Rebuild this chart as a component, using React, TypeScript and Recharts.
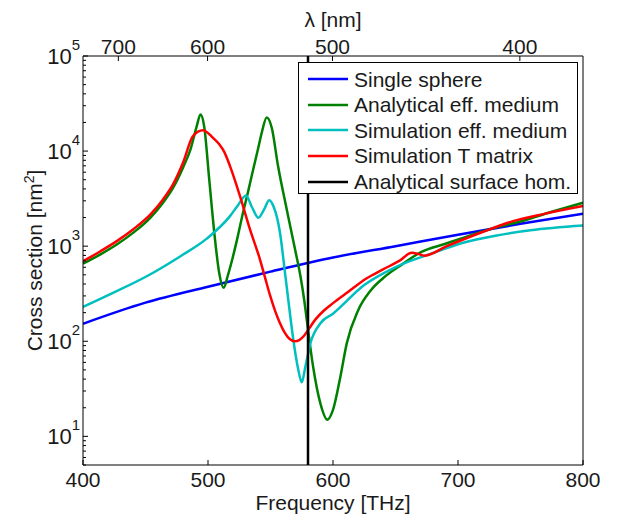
import React from "react";
import { LineChart, Line, XAxis, YAxis } from "recharts";

// values (frequency in THz, cross section in nm^2)
const singleFreq = [400, 450, 500, 550, 600, 650, 700, 750, 800];
const singleVal = [153, 255, 375, 540, 760, 1000, 1320, 1720, 2190];

const anaFreq = [
  400, 414, 427, 440, 454, 464, 472, 480, 486, 491, 494, 497, 501, 505, 509, 512.5, 516, 520, 524, 528, 532, 536,
  540, 543, 547, 551, 556, 563, 570, 574, 577, 579, 584, 590, 595.5, 600, 606, 611, 620, 630, 640, 655, 670, 690,
  710, 731, 750, 775, 800,
];
const anaVal = [
  655, 820, 1040, 1380, 2000, 2860, 4100, 6700, 10400, 18300, 24300, 18000, 5000, 1400, 520, 365, 500, 780, 1300,
  2250, 3700, 6300, 10500, 15600, 22500, 17600, 7000, 2430, 880, 480, 270, 169, 55, 22, 15, 19, 43, 95, 210, 340,
  460, 640, 860, 1060, 1300, 1580, 1820, 2300, 2865,
];

const simFreq = [
  400, 424, 451, 478, 499, 517.6, 524, 530.4, 535, 540.3, 545, 549, 552.3, 557.6, 561.6, 564.2, 568, 572, 575, 578,
  582, 590, 600, 625, 651, 678, 704, 731, 758, 800,
];
const simVal = [
  230, 323, 483, 785, 1200, 2070, 2700, 3420, 2600, 1990, 2450, 3050, 2640, 1384, 525, 275, 110, 52, 37, 55, 96, 155,
  195, 390, 610, 830, 1086, 1296, 1473, 1652,
];

const tmFreq = [
  400, 414, 427, 440, 454, 464, 472, 480, 488, 496, 504, 509, 513, 517.6, 525.6, 533.6, 541.6, 545.6, 549.6, 553.6,
  557.6, 561.6, 565.6, 569.5, 573, 577, 581, 586, 593, 600, 612, 627, 640, 653, 663, 668, 673, 691, 718, 744, 770,
  800,
];
const tmVal = [
  695, 885, 1130, 1500, 2160, 3100, 4460, 7540, 14400, 16600, 13800, 11800, 9800, 6950, 3360, 1500, 724, 470, 305,
  210, 155, 122, 105, 100, 103, 115, 137, 170, 212, 252, 330, 460, 570, 700, 851, 830, 795, 1000, 1384, 1833, 2200,
  2640,
];

const surfaceFreq = [580, 580];
const surfaceVal = [5, 100000];

const seriesNames = [
  "Single sphere",
  "Analytical eff. medium",
  "Simulation eff. medium",
  "Simulation T matrix",
  "Analytical surface hom.",
];
const seriesColors = ["#0000ff", "#008000", "#00bfbf", "#ff0000", "#000000"];

const freqTicks = [400, 500, 600, 700, 800];
const lambdaTicks = [700, 600, 500, 400];
const yTicks = [
  5, 6, 7, 8, 9, 10, 20, 30, 40, 50, 60, 70, 80, 90, 100, 200, 300, 400, 500, 600, 700, 800, 900, 1000, 2000, 3000,
  4000, 5000, 6000, 7000, 8000, 9000, 10000, 20000, 30000, 40000, 50000, 60000, 70000, 80000, 90000, 100000,
];

const C_NM_THZ = 299792.458;
const FONT = '"Liberation Sans", Arial, Helvetica, sans-serif';
const INK = "#1a1a1a";

const toRows = (f: number[], v: number[]) => f.map((x, i) => ({ f: x, v: v[i] }));
const seriesData = [
  toRows(singleFreq, singleVal),
  toRows(anaFreq, anaVal),
  toRows(simFreq, simVal),
  toRows(tmFreq, tmVal),
  toRows(surfaceFreq, surfaceVal),
];

const LeftTick = (props: any) => {
  const { x, y, payload } = props;
  const lg = Math.log10(payload.value);
  const exp = Math.round(lg);
  const major = Math.abs(lg - exp) < 1e-6;
  return (
    <g>
      <line x1={x} x2={x + (major ? 5 : 3)} y1={y} y2={y} stroke="#000" strokeWidth={1} />
      {major && (
        <text x={x - 3} y={y} textAnchor="end" fontFamily={FONT} fill={INK}>
          <tspan fontSize={22} dy={7.5}>
            10
          </tspan>
          <tspan fontSize={15} dy={-13.5}>
            {exp}
          </tspan>
        </text>
      )}
    </g>
  );
};

const BottomTick = (props: any) => {
  const { x, y, payload } = props;
  return (
    <g>
      <line x1={x} x2={x} y1={y} y2={y - 5} stroke="#000" strokeWidth={1} />
      <text x={x} y={y + 22} textAnchor="middle" fontSize={21} fontFamily={FONT} fill={INK}>
        {payload.value}
      </text>
    </g>
  );
};

const TopTick = (props: any) => {
  const { x, y, payload } = props;
  return (
    <g>
      <line x1={x} x2={x} y1={y} y2={y + 5} stroke="#000" strokeWidth={1} />
      <text x={x} y={y - 2} textAnchor="middle" fontSize={21} fontFamily={FONT} fill={INK}>
        {Math.round(C_NM_THZ / payload.value)}
      </text>
    </g>
  );
};

const BottomTitle = (props: any) => {
  const vb = props.viewBox || {};
  return (
    <text x={vb.x + vb.width / 2} y={vb.y + 45} textAnchor="middle" fontSize={21} fontFamily={FONT} fill={INK}>
      Frequency [THz]
    </text>
  );
};

const TopTitle = (props: any) => {
  const vb = props.viewBox || {};
  return (
    <text x={vb.x + vb.width / 2} y={vb.y - 28} textAnchor="middle" fontSize={21} fontFamily={FONT} fill={INK}>
      λ [nm]
    </text>
  );
};

const LeftTitle = (props: any) => {
  const vb = props.viewBox || {};
  const cx = vb.x - 1.5;
  const cy = vb.y + vb.height / 2;
  return (
    <text
      x={cx}
      y={cy}
      transform={`rotate(-90 ${cx} ${cy})`}
      textAnchor="middle"
      fontSize={21}
      fontFamily={FONT}
      fill={INK}
    >
      Cross section [nm
      <tspan fontSize={14} dy={-8}>
        2
      </tspan>
      <tspan dy={8}>]</tspan>
    </text>
  );
};

function Legend() {
  return (
    <div
      style={{
        position: "absolute",
        left: 298,
        top: 62,
        width: 278,
        height: 130,
        border: "1px solid #000",
        background: "#fff",
        fontFamily: FONT,
        fontSize: 21,
        color: INK,
      }}
    >
      {seriesNames.map((name, i) => (
        <div
          key={name}
          style={{
            position: "absolute",
            left: 9,
            top: 3.5 + i * 25.6,
            height: 25.6,
            display: "flex",
            alignItems: "center",
            whiteSpace: "nowrap",
          }}
        >
          <svg width={40} height={4} style={{ marginRight: 6 }}>
            <line x1={0} x2={40} y1={2} y2={2} stroke={seriesColors[i]} strokeWidth={2.5} />
          </svg>
          <span style={{ lineHeight: "25.6px" }}>{name}</span>
        </div>
      ))}
    </div>
  );
}

export default function App() {
  return (
    <div style={{ position: "absolute", left: 0, top: 0, width: 619, height: 518, background: "#fff" }}>
      <LineChart width={619} height={518} margin={{ top: 55, right: 35, bottom: 23, left: 43 }}>
        <XAxis
          xAxisId="f"
          dataKey="f"
          type="number"
          domain={[400, 800]}
          allowDataOverflow
          ticks={freqTicks}
          interval={0}
          height={30}
          tickSize={0}
          tickMargin={0}
          tickLine={false}
          tick={<BottomTick />}
          axisLine={{ stroke: "#000", strokeWidth: 1 }}
          label={<BottomTitle />}
        />
        <XAxis
          xAxisId="lam"
          orientation="top"
          dataKey="f"
          type="number"
          domain={[400, 800]}
          allowDataOverflow
          ticks={lambdaTicks.map((l) => C_NM_THZ / l)}
          interval={0}
          height={1}
          tickSize={0}
          tickMargin={0}
          tickLine={false}
          tick={<TopTick />}
          axisLine={{ stroke: "#000", strokeWidth: 1 }}
          label={<TopTitle />}
        />
        <YAxis
          yAxisId="v"
          dataKey="v"
          type="number"
          scale="log"
          domain={[5, 100000]}
          allowDataOverflow
          ticks={yTicks}
          interval={0}
          width={40}
          tickSize={0}
          tickMargin={0}
          tickLine={false}
          tick={<LeftTick />}
          axisLine={{ stroke: "#000", strokeWidth: 1 }}
          label={<LeftTitle />}
        />
        <YAxis
          yAxisId="r"
          orientation="right"
          type="number"
          scale="log"
          domain={[5, 100000]}
          allowDataOverflow
          width={1}
          tick={false}
          tickLine={false}
          axisLine={{ stroke: "#000", strokeWidth: 1 }}
        />
        {seriesData.map((rows, i) => (
          <Line
            key={seriesNames[i]}
            xAxisId="f"
            yAxisId="v"
            data={rows}
            dataKey="v"
            name={seriesNames[i]}
            type={i === 4 ? "linear" : "monotone"}
            stroke={seriesColors[i]}
            strokeWidth={2.5}
            dot={false}
            activeDot={false}
            isAnimationActive={false}
          />
        ))}
      </LineChart>
      <Legend />
    </div>
  );
}
